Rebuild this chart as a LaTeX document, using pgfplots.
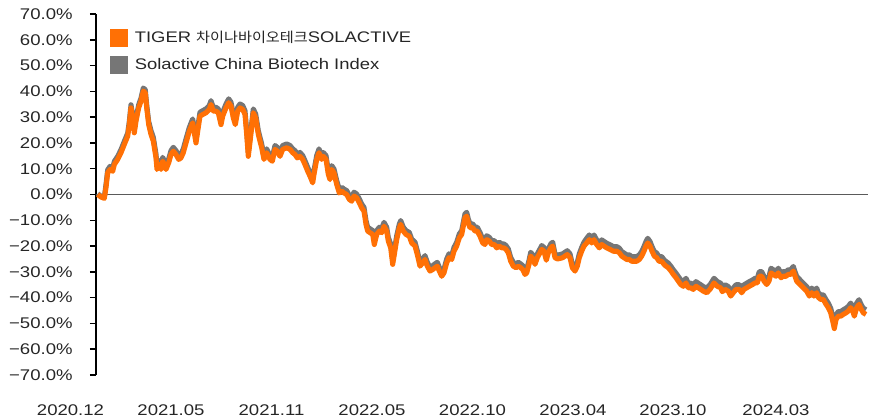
\documentclass[border=0pt]{standalone}
\usepackage{fontspec}
\setmainfont{Liberation Sans}[FakeStretch=1.2]
\newfontfamily\kr{Noto Sans CJK KR}[FakeStretch=1.1, Scale=0.9]
\usepackage{pgfplots}
\usepackage{pgfplotstable}
\pgfplotsset{compat=1.18}
\definecolor{tigor}{RGB}{255,112,5}
\definecolor{idxgray}{RGB}{118,118,118}
\definecolor{zerol}{RGB}{90,90,90}
\pgfplotstableread{
x o g
97.7 0 0.3
101 -1 -0.7
104.3 -1.5 -1.2
106 2.7 3.9
107.7 8.4 9.6
110 9.7 10.9
112.7 9.0 10.2
114.3 11.6 12.8
117.7 13.6 14.8
121 16.2 17.4
124.3 19.4 20.6
127.7 22.6 23.8
129.3 27.1 28.3
131 33.6 34.8
132.7 29.7 30.9
134.3 23.9 25.1
136 28.4 29.6
138.7 33.6 34.8
141 36.2 37.4
143.3 40.1 41.3
145.3 39.4 40.6
146.7 33.6 34.8
148.7 27.1 28.3
151 23.3 24.8
153.3 20.7 22.2
156 14.2 15.7
157 9.7 11.2
159.3 11.6 13.1
161 9.7 11.2
162.7 12.9 14.4
164.3 11.6 13.1
166 9.7 11.2
168.7 12.3 13.8
171 15.5 17.0
173.3 16.8 18.3
176 15.5 17.0
178.7 13.6 15.1
181 14.2 15.7
183.3 16.2 17.7
186 20.0 21.5
189.3 24.5 26.0
192.7 27.8 29.3
194.3 23.9 25.4
196 20.0 21.5
197.7 24.5 26.0
200 30.4 31.9
202.7 31.0 32.5
206 31.7 33.2
209.3 33.0 34.5
211 34.9 36.4
213.3 32.3 33.8
216 32.3 33.8
218.3 31.7 33.2
221 27.1 28.6
222.7 30.4 31.9
226 33.6 35.1
228.7 35.6 37.1
231 34.3 35.8
233.3 29.7 31.2
235.3 27.1 28.6
237.7 32.3 33.8
240 33.6 35.1
242.7 33.0 34.5
245 31.0 32.5
246.7 23.3 24.8
248.3 14.8 16.3
250.5 22.0 23.5
253.3 31.7 33.2
255.7 29.7 31.2
258.3 23.3 24.8
261.7 18.1 19.6
264 13.6 15.1
266.7 16.2 17.7
270 13.6 15.1
272.3 12.9 14.4
275 17.5 19.0
277.3 16.8 18.3
280 14.8 16.3
282.7 17.5 19.0
286.7 18.1 19.6
290 17.5 19.0
292.7 16.2 17.7
295 15.5 17.0
297.3 14.2 15.7
300 14.8 16.3
302.7 13.6 15.1
305 11.6 13.1
307.7 9.0 10.5
310 7.1 8.6
312.7 4.5 6.0
314 7.8 9.3
316.7 13.6 15.1
319 16.2 17.7
321.7 13.6 15.1
323.3 14.8 16.3
326 13.6 15.1
328.3 7.8 9.3
330 5.8 7.3
331.7 9.7 11.2
334 8.4 9.9
336.7 3.9 5.4
339.3 0.6 2.1
341.7 1.3 2.8
344 0.6 2.1
346.7 0 1.5
349.3 -1.9 -0.4
351.7 -2.6 -1.1
354 -0.6 0.9
356.7 -1.3 0.2
359.3 -3.2 -1.7
361.7 -5.2 -3.7
364 -6.5 -5.0
366 -11.6 -10.1
367.7 -14.2 -12.7
370 -14.8 -13.3
372.7 -15.5 -14.0
374.3 -19.4 -17.9
376.7 -15.5 -14.0
379.3 -14.2 -12.7
381.7 -14.8 -13.3
384 -12.3 -10.8
386.7 -14.2 -12.7
388.3 -18.1 -16.6
390.7 -20.7 -19.2
392.7 -27.1 -25.6
394.3 -23.3 -21.8
396.7 -17.5 -16.0
399.3 -13.0 -11.5
400.7 -11.6 -10.1
403.3 -14.2 -12.7
406 -15.5 -14.0
409.3 -16.2 -14.7
411.7 -18.8 -17.3
415 -20.0 -18.5
417.3 -23.3 -21.8
420 -27.8 -26.3
422.7 -26.5 -25.0
425 -25.2 -23.7
427.3 -27.8 -26.3
430 -29.7 -28.2
432.7 -29.1 -27.6
435 -28.4 -26.9
437.3 -27.8 -26.3
439.3 -29.7 -28.2
441.7 -31.7 -30.2
444 -30.4 -28.9
446.7 -26.5 -25.0
449 -24.5 -23.0
451.7 -25.2 -23.7
454 -22.0 -20.5
456.7 -20.0 -18.5
459.3 -16.8 -15.3
461.7 -15.5 -14.0
463.3 -12.3 -10.8
465 -9.0 -7.5
466.7 -8.4 -6.9
468.3 -11.0 -9.5
470 -12.9 -11.4
472.7 -12.9 -11.4
475 -14.2 -12.7
477.3 -14.2 -12.7
480 -16.2 -14.7
482.7 -18.8 -17.3
485 -19.4 -17.9
486.7 -17.5 -16.0
489.3 -18.1 -16.6
491.7 -19.4 -17.9
494.3 -19.4 -17.9
496.7 -20.7 -19.2
499.3 -20.0 -18.5
501.7 -20.7 -19.2
504 -20.7 -19.2
506 -21.3 -19.8
508.3 -22.6 -21.1
510.7 -25.9 -24.4
513.3 -27.8 -26.3
516 -28.4 -26.9
518.3 -27.8 -26.3
520.7 -28.4 -26.9
522.7 -29.1 -27.6
525 -31.0 -29.5
526.7 -30.4 -28.9
529 -27.1 -25.6
530.7 -23.9 -22.4
533.3 -25.2 -23.7
535 -27.1 -25.6
537.3 -24.5 -23.0
540 -22.6 -21.1
541.7 -21.3 -19.8
544 -22.0 -20.5
546.3 -25.5 -24.0
548.3 -22.6 -21.1
550.7 -20.7 -19.2
552.7 -20.0 -18.5
555 -24.5 -23.0
557.3 -25.0 -23.5
560 -24.8 -23.3
562.7 -24.5 -23.0
565 -23.9 -22.4
567.3 -23.3 -21.8
570 -24.5 -23.0
572.3 -28.4 -26.9
575 -29.7 -28.2
577.3 -27.8 -26.3
579.3 -24.5 -23.0
581.7 -22.0 -20.5
584 -20.0 -18.5
586.7 -18.8 -17.0
589.3 -17.5 -15.7
591.7 -18.8 -17.0
594 -17.5 -15.7
596.7 -19.4 -17.6
599.3 -20.7 -18.9
601.7 -19.4 -17.6
604 -20.0 -18.2
606.7 -20.7 -18.9
610 -21.3 -19.5
613.3 -22.0 -20.2
616.7 -22.0 -20.2
619.3 -22.6 -20.8
621.7 -23.9 -22.1
624 -24.5 -22.7
626.7 -25.2 -23.4
629.3 -25.2 -23.4
631.7 -25.9 -24.1
634.3 -25.9 -24.1
636.7 -25.9 -24.1
639.3 -25.2 -23.4
641.7 -23.9 -22.1
644 -22.0 -20.2
646 -20.0 -18.2
647.7 -18.8 -17.0
650 -20.0 -18.2
652 -22.0 -20.2
654.3 -23.9 -22.1
656.7 -24.5 -22.7
659 -25.9 -24.1
661.7 -25.9 -24.1
664 -27.1 -25.3
666 -27.8 -26.0
668.3 -28.4 -26.6
671 -29.7 -27.9
673.3 -31.0 -29.2
676 -32.3 -30.5
678.3 -33.6 -31.8
680.7 -34.9 -33.1
683.3 -35.6 -33.8
686 -34.3 -32.5
688.3 -36.2 -34.4
690.7 -36.2 -34.4
693.3 -36.8 -35.0
696 -35.6 -33.8
698.3 -36.2 -34.4
700.7 -36.8 -35.0
703.3 -37.5 -35.7
706.7 -38.1 -36.3
710 -36.8 -35.0
714 -34.3 -32.5
717.3 -35.6 -33.8
720.7 -36.2 -34.4
722.3 -37.7 -35.9
725 -36.8 -35.0
728.3 -37.5 -35.7
730.7 -39.4 -37.6
733.3 -38.1 -36.3
736 -36.8 -35.0
739.3 -36.8 -35.0
741.7 -38.1 -36.3
744 -36.8 -35.0
746.7 -36.2 -34.4
749.3 -35.6 -33.8
752.7 -34.9 -33.1
755 -34.3 -32.5
757.3 -34.3 -32.5
759.3 -31.7 -29.9
761.7 -31.7 -29.9
764 -33.6 -31.8
766.7 -34.9 -33.1
769 -33.6 -31.8
771 -30.4 -28.6
773.3 -31.0 -29.2
776 -31.7 -29.9
778.3 -30.4 -28.6
781 -32.3 -30.5
783.3 -31.7 -29.9
786 -31.7 -29.9
788.3 -31.0 -29.2
790.7 -31.0 -29.2
793.3 -29.7 -27.9
795 -31.7 -29.9
796.7 -33.6 -31.8
800 -34.9 -33.1
803.3 -36.2 -34.4
806.7 -37.5 -35.7
809.3 -39.4 -37.6
811.7 -38.1 -36.3
814 -39.4 -37.6
816.7 -38.1 -36.3
818.3 -39.9 -38.1
820.7 -40.7 -38.9
823.3 -40.7 -38.9
826 -42.6 -40.8
828.3 -43.9 -42.1
830.7 -45.9 -44.1
832.7 -49.1 -47.3
834.3 -52.0 -50.2
836 -48.5 -46.7
838.3 -47.2 -45.4
840.7 -47.2 -45.4
843.3 -46.5 -44.7
846 -45.9 -44.1
848.3 -45.2 -43.4
850.7 -43.9 -42.1
852.7 -45.2 -43.4
854.3 -47.2 -45.4
856.7 -43.9 -42.1
859 -42.6 -40.8
861.3 -44.6 -42.8
863.3 -45.9 -44.1
866 -46.5 -44.7
}\data
\begin{document}
\begin{tikzpicture}
\begin{axis}[
  scale only axis,
  width=579pt, height=270.75pt,
  xmin=96, xmax=868, ymin=-70, ymax=70,
  axis lines*=left,
  x axis line style={draw=none},
  y axis line style={black, line width=1.4pt},
  ytick={-70,-60,...,70},
  yticklabels={−70.0\%,−60.0\%,−50.0\%,−40.0\%,−30.0\%,−20.0\%,−10.0\%,0.0\%,10.0\%,20.0\%,30.0\%,40.0\%,50.0\%,60.0\%,70.0\%},
  ytick style={black, line width=1.1pt},
  tick align=outside,
  major tick length=4.5pt,
  xtick={110.5,211,311.5,412,512.5,613,713,816},
  xticklabels={2020.12,2021.05,2021.11,2022.05,2022.10,2023.04,2023.10,2024.03},
  xtick style={draw=none},
  xticklabel style={xshift=-30pt, yshift=-14pt},
  yticklabel style={xshift=-9.5pt},
  tick label style={font=\fontsize{11.6}{13}\selectfont, text=black!85},
  /pgf/number format/assume math mode=true,
  legend style={draw=none, fill=none, at={(0.018,0.960)}, anchor=north west,
    font=\fontsize{11.5}{13}\selectfont, text=black!85, row sep=6.3pt,
    inner sep=0pt, /tikz/every odd column/.append style={column sep=3pt}},
  legend cell align=left,
  legend image code/.code={\fill[#1, draw=none, line width=0pt] (0pt,-6.5pt) rectangle (13.5pt,6.5pt);},
]
\addplot[color=zerol, line width=0.7pt, forget plot] coordinates {(96,0) (868,0)};
\addplot[color=idxgray, line width=3.8pt, line join=round, forget plot] table[x=x,y=g]{\data};
\addplot[color=tigor, line width=3.8pt, line join=round] table[x=x,y=o]{\data};
\addlegendentry{TIGER {\kr 차이나바이오테크}SOLACTIVE}
\addlegendimage{color=idxgray}
\addlegendentry{Solactive China Biotech Index}
\end{axis}
\pgfresetboundingbox
\path ([xshift=-72pt,yshift=-32.25pt]current axis.south west) rectangle ([xshift=6.75pt,yshift=10.5pt]current axis.north east);
\end{tikzpicture}
\end{document}
